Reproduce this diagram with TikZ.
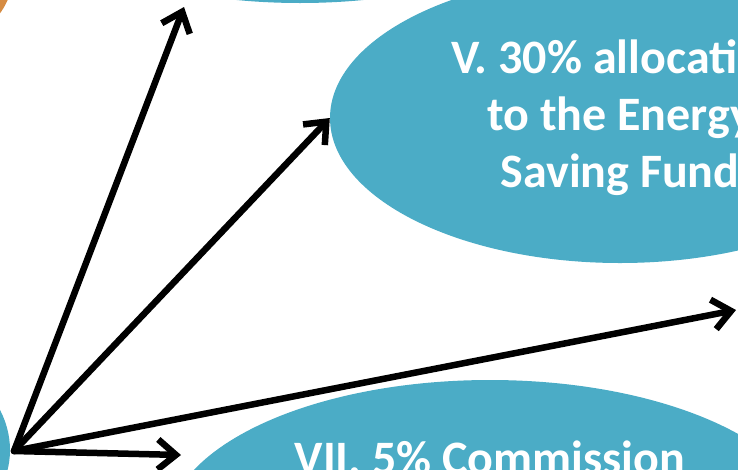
\documentclass[tikz,border=0pt]{standalone}
\usepackage{fontspec}
\setmainfont{Carlito}
\usetikzlibrary{arrows.meta,shapes.geometric}
\definecolor{aqua}{HTML}{4BACC6}
\definecolor{peel}{RGB}{214,140,66}
\begin{document}
\begin{tikzpicture}[x=1pt,y=-1pt,
  blob/.style={ellipse,fill=aqua,inner sep=0pt,text=white,
    font=\bfseries\fontsize{48}{57}\selectfont,align=center},
  arr/.style={line width=6.5pt,line cap=round,line join=round,
    -{Straight Barb[length=18pt,width=30pt]}}]
\useasboundingbox (0,0) rectangle (738,469);
\fill[peel] (-60,-30) circle (74pt);
        \node[blob,minimum width=474pt,minimum height=166pt] (top) at (300,-80) {};
        \node[blob,minimum width=320pt,minimum height=230pt] (src) at (-150,450) {};
        \node[blob,minimum width=580pt,minimum height=290pt] (five) at (620,118)
                {V. 30\% allocation\\to the Energy\\Saving Fund};
        \node[blob,minimum width=646pt,minimum height=300pt,text height=30pt,text depth=142pt]
                (seven) at (490,530) {VII. 5\% Commission};
        \coordinate (hub) at (14,451);
        \coordinate (up) at (184,7);
        \coordinate (far) at (736,310);
        \coordinate (low) at (181,455);
        \foreach \t in {up,five.west,far,low}
                \draw[arr] (hub) -- (\t);
\end{tikzpicture}
\end{document}
